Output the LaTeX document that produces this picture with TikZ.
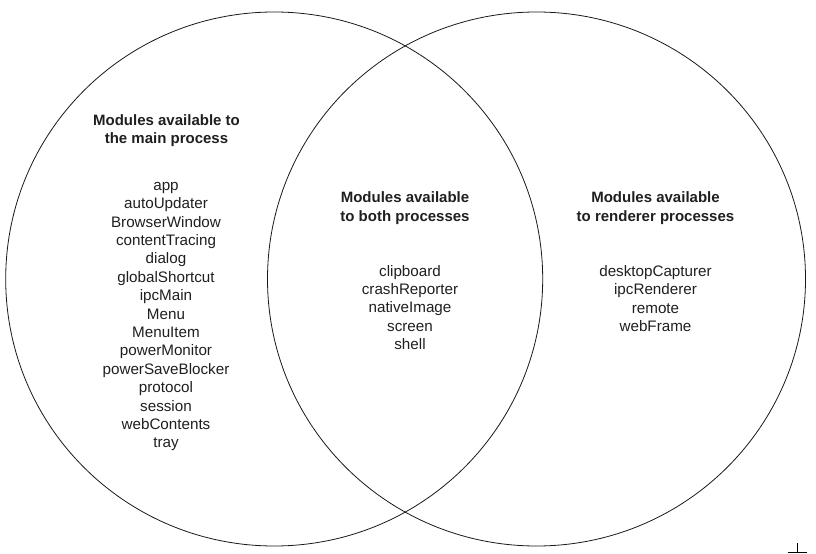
\documentclass[tikz,border=0pt]{standalone}
\usepackage{fontspec}
\setmainfont{Liberation Sans}
\begin{document}
\begin{tikzpicture}[x=1bp,y=-1bp,
  ring/.style={draw=black!90,line width=0.8bp},
  head/.style={align=center,font=\fontsize{15bp}{18.6bp}\selectfont\bfseries,text=black!88,inner sep=0pt},
  items/.style={align=center,font=\fontsize{15.2bp}{18.4bp}\selectfont,text=black!88,inner sep=0pt},
  tick/.style={draw=black,line width=1.3bp}]
\useasboundingbox (0,0) rectangle (816,554);
\draw[ring] (274.2,279) ellipse [x radius=268.5,y radius=267];
\draw[ring] (536.5,279) ellipse [x radius=269,y radius=267];
\node[head] (hmain) at (166.5,130.5) {Modules available to\\the main process};
\node[items] (lmain) at (166,316.5) {app\\autoUpdater\\BrowserWindow\\contentTracing\\dialog\\globalShortcut\\ipcMain\\Menu\\MenuItem\\powerMonitor\\powerSaveBlocker\\protocol\\session\\webContents\\tray};
\node[head] (hboth) at (405,208) {Modules available\\to both processes};
\node[items] (lboth) at (410,307.5) {clipboard\\crashReporter\\nativeImage\\screen\\shell};
\node[head] (hrend) at (655.5,208) {Modules available\\to renderer processes};
\node[items] (lrend) at (655.5,298.5) {desktopCapturer\\ipcRenderer\\remote\\webFrame};
\coordinate (ta) at (797.3,543);
\coordinate (tb) at (797.3,552.3);
\coordinate (tl) at (787.7,552.3);
\coordinate (tr) at (806.7,552.3);
\draw[tick] (ta) -- (tb);
\draw[tick] (tl) -- (tr);
\end{tikzpicture}
\end{document}
